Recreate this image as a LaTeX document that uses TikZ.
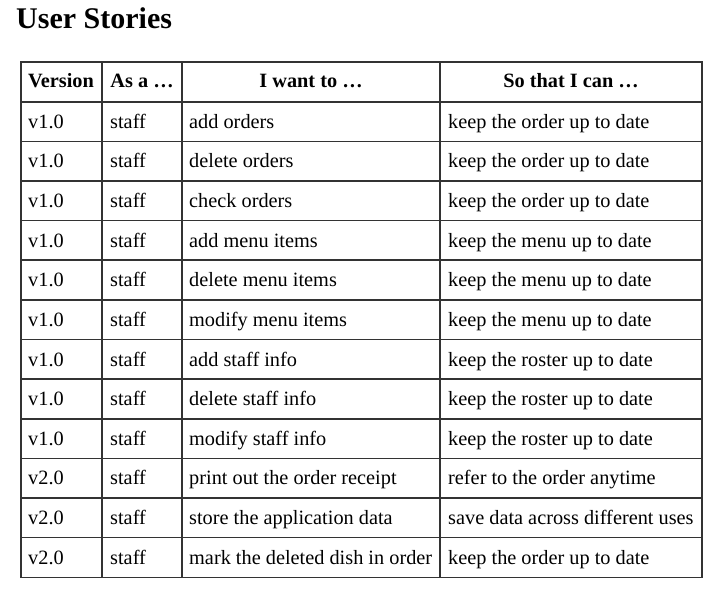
\documentclass[tikz,border=0pt]{standalone}
\usepackage{fontspec}
\setmainfont{Liberation Serif}
\usetikzlibrary{positioning}
\tikzset{
  cell/.style={anchor=base west, inner sep=0pt, font=\fontsize{20.3}{24}\selectfont},
  head/.style={anchor=base, inner sep=0pt, font=\fontsize{20.3}{24}\selectfont\bfseries},
  title/.style={anchor=base west, inner sep=0pt, font=\fontsize{30}{36}\selectfont\bfseries},
  rule/.style={draw=black!80, line width=1.6pt}
}
\begin{document}
\begin{tikzpicture}[x=1pt,y=-1pt]
\useasboundingbox (0,0) rectangle (720,594);
\node (T) [title] at (16,28.3) {User Stories};
% header row
\node (Hv) [head] at (61,88) {Version};
\node (Ha) [head] at (142,88) {As a …};
\node (Hw) [head] at (311,88) {I want to …};
\node (Hs) [head] at (571,88) {So that I can …};
% body rows
\foreach \i/\ver/\want/\so in {
  1/v1.0/add orders/keep the order up to date,
  2/v1.0/delete orders/keep the order up to date,
  3/v1.0/check orders/keep the order up to date,
  4/v1.0/add menu items/keep the menu up to date,
  5/v1.0/delete menu items/keep the menu up to date,
  6/v1.0/modify menu items/keep the menu up to date,
  7/v1.0/add staff info/keep the roster up to date,
  8/v1.0/delete staff info/keep the roster up to date,
  9/v1.0/modify staff info/keep the roster up to date,
  10/v2.0/print out the order receipt/refer to the order anytime,
  11/v2.0/store the application data/save data across different uses,
  12/v2.0/mark the deleted dish in order/keep the order up to date}{
  \pgfmathsetmacro{\yb}{101.7+(\i-1)*39.63+26.6}
  \node (v\i) [cell] at (28,\yb) {\ver};
  \node (a\i) [cell] at (110,\yb) {staff};
  \node (w\i) [cell] at (189,\yb) {\want};
  \node (s\i) [cell] at (448,\yb) {\so};
}
% grid
\foreach \i in {0,...,11}
  \draw[rule] (21,{101.7+\i*39.63}) -- (702,{101.7+\i*39.63});
\foreach \x in {102,182,440}
  \draw[rule] (\x,62) -- (\x,577.3);
\draw[rule] (21,62) rectangle (702,577.3);
\end{tikzpicture}
\end{document}
